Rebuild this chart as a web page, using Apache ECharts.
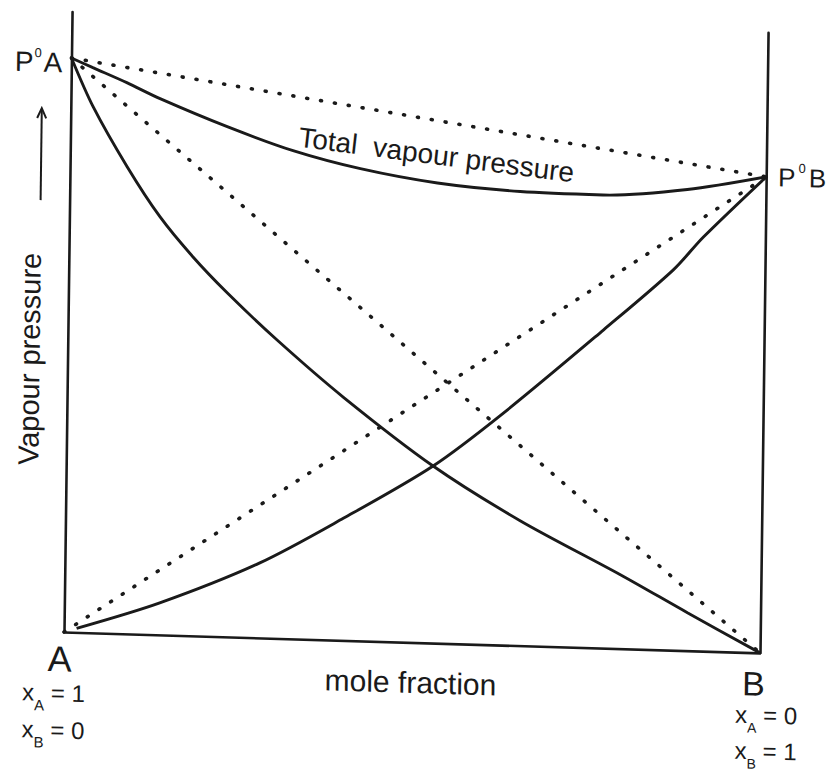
<!DOCTYPE html>
<html>
<head>
<meta charset="utf-8">
<script src="https://cdn.jsdelivr.net/npm/echarts@6/dist/echarts.min.js"></script>
<style>
  html, body { margin: 0; padding: 0; background: #ffffff; overflow: hidden; }
  #chart { width: 834px; height: 775px; transform-origin: 64px 632px; transform: matrix(1, 0.03, -0.013, 1, 0, 0); }
</style>
</head>
<body>
<div id="chart"></div>
<script>
// ---- data (x = mole fraction of B, y = vapour pressure, arbitrary units) ----
const PA0 = 574;   // vapour pressure of pure A
const PB0 = 476;   // vapour pressure of pure B

const partialA = [[0, 574], [0.032, 526], [0.082, 467], [0.130, 418], [0.178, 379], [0.228, 344],
  [0.301, 298], [0.397, 243], [0.527, 177], [0.653, 125], [0.798, 74], [0.895, 38], [1, 0]];

const partialB = [[0.018, 4], [0.137, 32], [0.280, 75], [0.399, 122], [0.527, 177], [0.627, 232],
  [0.769, 318], [0.868, 380], [0.911, 414], [1, 476]];

const totalP = [[0, 574], [0.031, 565], [0.080, 551], [0.128, 536], [0.225, 510], [0.320, 488],
  [0.417, 472], [0.528, 460], [0.647, 454], [0.766, 453], [0.887, 461], [1, 476]];

// ideal (Raoult's law) straight lines
const idealTotal = [[0, PA0], [1, PB0]];
const idealA = [[0, PA0], [1, 0]];
const idealB = [[0, 0], [1, PB0]];

// text labels
const labelTotal = 'Total  vapour pressure';
const labelX = 'mole fraction';
const labelY = 'Vapour pressure';

const FONT = '"Liberation Sans", Arial, Helvetica, sans-serif';
const INK = '#1a1a1a';

const chart = echarts.init(document.getElementById('chart'), null, { renderer: 'svg' });

const dotted = {
  color: INK, width: 3.6, type: [1, 13], cap: 'round'
};
const solid = { color: INK, width: 2.9 };

function mkLine(data, style, smooth) {
  return {
    type: 'line', data: data, symbol: 'none', silent: true,
    smooth: smooth ? 0.3 : false,
    lineStyle: style, animation: false
  };
}

const axisLine = { show: true, onZero: false, lineStyle: { color: INK, width: 2.6 } };

chart.setOption({
  backgroundColor: '#ffffff',
  animation: false,
  grid: { left: 64, right: 74, top: 12, bottom: 143 },
  xAxis: {
    type: 'value', min: 0, max: 1,
    axisLine: axisLine, axisTick: { show: false }, axisLabel: { show: false }, splitLine: { show: false }
  },
  yAxis: [
    { type: 'value', min: 0, max: 620, position: 'left',
      axisLine: axisLine, axisTick: { show: false }, axisLabel: { show: false }, splitLine: { show: false } },
    { type: 'value', min: 0, max: 620, position: 'right',
      axisLine: axisLine, axisTick: { show: false }, axisLabel: { show: false }, splitLine: { show: false } }
  ],
  series: [
    mkLine(idealTotal, dotted, false),
    mkLine(idealA, dotted, false),
    mkLine(idealB, dotted, false),
    mkLine(partialA, solid, true),
    mkLine(partialB, solid, true),
    mkLine(totalP, solid, true)
  ],
  graphic: [
    { type: 'text', x: 430, y: 144, rotation: -0.1,
      style: { text: labelTotal, fontSize: 28, fontFamily: FONT, fill: INK, align: 'center', verticalAlign: 'middle' } },
    { type: 'text', x: 411, y: 672,
      style: { text: labelX, fontSize: 30, fontFamily: FONT, fill: INK, align: 'center', verticalAlign: 'middle' } },
    { type: 'text', x: 26, y: 360, rotation: Math.PI / 2,
      style: { text: labelY, fontSize: 29, fontFamily: FONT, fill: INK, align: 'center', verticalAlign: 'middle' } },
    { type: 'polyline', shape: { points: [[35, 201], [35, 110]] }, style: { stroke: INK, lineWidth: 2, fill: null } },
    { type: 'polyline', shape: { points: [[30.5, 119], [35, 109], [39.5, 119]] }, style: { stroke: INK, lineWidth: 2, fill: null } },
    { type: 'text', x: 55, y: 63,
      style: { text: '{a|P}{s|0}{a|A}', fill: INK, align: 'right', verticalAlign: 'middle',
        rich: { a: { fontSize: 28, fontFamily: FONT, fill: INK, lineHeight: 32, verticalAlign: 'middle' },
                s: { fontSize: 13, fontFamily: FONT, fill: INK, lineHeight: 32, verticalAlign: 'top', padding: [0, 2, 0, 1] } } } },
    { type: 'text', x: 772, y: 156,
      style: { text: '{a|P}{s|0}{a|B}', fill: INK, align: 'left', verticalAlign: 'middle',
        rich: { a: { fontSize: 26, fontFamily: FONT, fill: INK, lineHeight: 32, verticalAlign: 'middle' },
                s: { fontSize: 13, fontFamily: FONT, fill: INK, lineHeight: 32, verticalAlign: 'top', padding: [0, 3, 0, 3] } } } },
    { type: 'text', x: 60, y: 659,
      style: { text: 'A', fontSize: 36, fontFamily: FONT, fill: INK, align: 'center', verticalAlign: 'middle' } },
    { type: 'text', x: 754, y: 663,
      style: { text: 'B', fontSize: 34, fontFamily: FONT, fill: INK, align: 'center', verticalAlign: 'middle' } },
    { type: 'text', x: 23, y: 693,
      style: { text: '{a|x}{s|A}{a| = 1}', fill: INK, align: 'left', verticalAlign: 'middle',
        rich: { a: { fontSize: 24, fontFamily: FONT, fill: INK, lineHeight: 40, verticalAlign: 'middle' },
                s: { fontSize: 15, fontFamily: FONT, fill: INK, lineHeight: 40, verticalAlign: 'bottom' } } } },
    { type: 'text', x: 23, y: 730,
      style: { text: '{a|x}{s|B}{a| = 0}', fill: INK, align: 'left', verticalAlign: 'middle',
        rich: { a: { fontSize: 24, fontFamily: FONT, fill: INK, lineHeight: 40, verticalAlign: 'middle' },
                s: { fontSize: 15, fontFamily: FONT, fill: INK, lineHeight: 40, verticalAlign: 'bottom' } } } },
    { type: 'text', x: 736, y: 694,
      style: { text: '{a|x}{s|A}{a| = 0}', fill: INK, align: 'left', verticalAlign: 'middle',
        rich: { a: { fontSize: 24, fontFamily: FONT, fill: INK, lineHeight: 40, verticalAlign: 'middle' },
                s: { fontSize: 14, fontFamily: FONT, fill: INK, lineHeight: 40, verticalAlign: 'bottom' } } } },
    { type: 'text', x: 736, y: 730,
      style: { text: '{a|x}{s|B}{a| = 1}', fill: INK, align: 'left', verticalAlign: 'middle',
        rich: { a: { fontSize: 24, fontFamily: FONT, fill: INK, lineHeight: 40, verticalAlign: 'middle' },
                s: { fontSize: 14, fontFamily: FONT, fill: INK, lineHeight: 40, verticalAlign: 'bottom' } } } }
  ]
});
</script>
</body>
</html>
